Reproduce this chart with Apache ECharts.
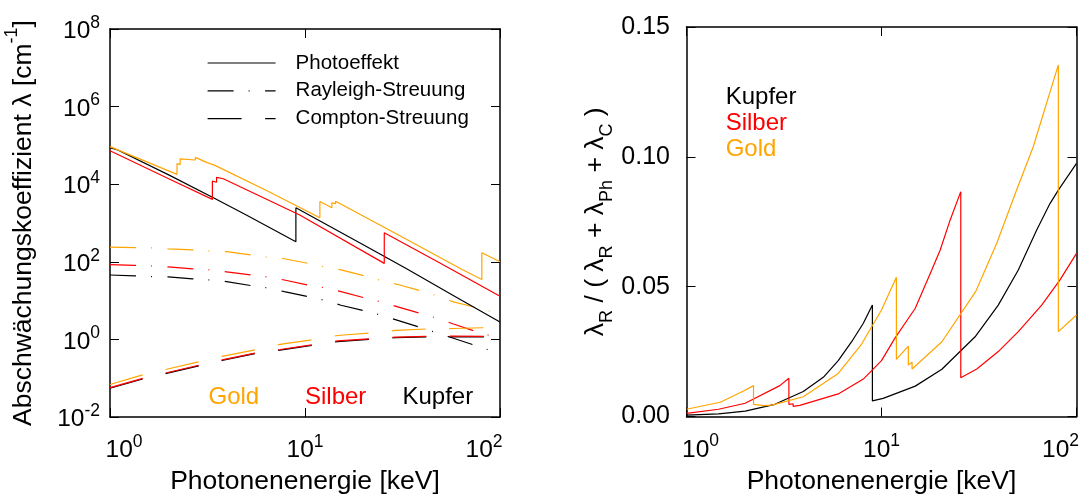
<!DOCTYPE html>
<html><head><meta charset="utf-8">
<script src="https://cdn.jsdelivr.net/npm/echarts@6/dist/echarts.min.js"></script>
<style>html,body{margin:0;padding:0;background:#fff}#c{width:1090px;height:503px}</style>
</head><body><div id="c"></div>
<script>
// ---------- data (energies in keV) ----------
const xTicks = [1, 10, 100];
const yTicksLeft = [0.01, 1, 100, 1e4, 1e6, 1e8];
const yTicksRight = [0, 0.05, 0.10, 0.15];

// Photoeffekt [cm^-1]
const cuPhotoE = [1, 1.096, 1.096, 2, 3.39, 5, 8.98, 8.98, 20, 33.2, 60, 100];
const cuPhoto  = [8.8e4, 7.6e4, 8.3e4, 1.74e4, 4.47e3, 1.6e3, 330, 2470, 270, 66, 12, 2.8];
const agPhotoE = [1, 2, 3.35, 3.35, 3.52, 3.52, 3.81, 3.81, 9.4, 25.5, 25.5, 50, 100];
const agPhoto  = [7.3e4, 1.38e4, 4.06e3, 1.2e4, 1.12e4, 1.5e4, 1.38e4, 1.55e4, 1.6e3, 91, 562, 89, 13];
const auPhotoE = [1, 2.206, 2.206, 2.29, 2.29, 2.74, 2.74, 3.15, 3.15, 3.43, 3.43, 6.35, 11.92, 11.92, 13.73, 13.73, 14.35, 14.35, 30, 63.6, 80.7, 80.7, 100];
const auPhoto  = [9.3e4, 1.79e4, 3.4e4, 3.2e4, 4.5e4, 4.2e4, 4.9e4, 3.6e4, 3.8e4, 3.1e4, 3.3e4, 6.9e3, 1.37e3, 3.6e3, 2.47e3, 3.3e3, 3.15e3, 3.63e3, 500, 64, 35, 171, 100];

// Rayleigh-Streuung [cm^-1]
const rayE  = [1, 1.34, 1.64, 1.99, 2.65, 3.26, 3.96, 5.26, 6.35, 7.83, 10.4, 12.6, 15.3, 20.3, 24.7, 29.9, 39.4, 47.9, 57.7, 75.9, 100];
const auRay = [240, 232, 228, 215, 204, 191, 182, 151, 132, 120, 91, 74, 62, 43, 33, 26, 17.8, 13.2, 9.3, 6.6, 4.6];
const agRay = [85, 81, 78, 74, 66, 62, 55, 46, 41, 34, 25, 21.4, 17.0, 11.7, 9.1, 6.9, 4.6, 3.5, 2.5, 1.58, 1.05];
const cuRay = [45.7, 43.6, 41.7, 40.7, 36.3, 33.9, 30.9, 24.5, 21.4, 17.0, 12.6, 10.2, 7.6, 5.4, 4.2, 3.1, 2.0, 1.45, 1.07, 0.68, 0.43];

// Compton-Streuung [cm^-1]
const comE  = [1, 1.5, 1.95, 2.89, 3.81, 5.69, 7.45, 11.2, 14.7, 22.2, 29.2, 44.3, 57.5, 83.2, 100];
const auCom = [0.069, 0.126, 0.17, 0.269, 0.372, 0.55, 0.741, 1.0, 1.26, 1.48, 1.70, 1.88, 1.91, 2.0, 2.0];
const agCom = [0.057, 0.102, 0.138, 0.219, 0.302, 0.457, 0.55, 0.741, 0.912, 1.047, 1.148, 1.20, 1.216, 1.20, 1.19];
const cuCom = [0.055, 0.098, 0.133, 0.211, 0.291, 0.441, 0.531, 0.715, 0.88, 1.01, 1.11, 1.16, 1.17, 1.16, 1.15];

// lambda_R / (lambda_R + lambda_Ph + lambda_C)
const cuRatioE = [1, 1.46, 2.0, 2.84, 3.97, 5.03, 6.0, 7.03, 8.07, 8.98, 8.98, 10.2, 14.9, 20.4, 30.2, 39.7, 50.3, 62.5, 73.1, 80.7, 100];
const cuRatio  = [0.0005, 0.001, 0.0021, 0.0047, 0.0096, 0.0151, 0.0215, 0.0288, 0.0359, 0.0429, 0.006, 0.007, 0.0117, 0.0182, 0.0307, 0.0429, 0.0564, 0.0718, 0.082, 0.0872, 0.0975];
const agRatioE = [1, 1.46, 2.0, 3.01, 3.35, 3.35, 3.52, 3.52, 3.81, 3.81, 6.0, 8.07, 10.0, 11.7, 14.9, 18.1, 20, 22.5, 25.5, 25.5, 30.8, 39.7, 50.3, 66.3, 82.3, 100];
const agRatio  = [0.0012, 0.0028, 0.0051, 0.0119, 0.0147, 0.0047, 0.0049, 0.0039, 0.0043, 0.0036, 0.0087, 0.0144, 0.0215, 0.0301, 0.0417, 0.0564, 0.0641, 0.0757, 0.0866, 0.0149, 0.0183, 0.025, 0.0327, 0.0429, 0.0526, 0.0628];
const auRatioE = [1, 1.49, 1.96, 2.206, 2.206, 2.5, 2.74, 3.97, 6.0, 7.91, 10.0, 11.92, 11.92, 13.73, 13.73, 14.35, 14.35, 20.4, 30.5, 39, 49.3, 60, 80.7, 80.7, 100];
const auRatio  = [0.0028, 0.0055, 0.0098, 0.0119, 0.0047, 0.0042, 0.0044, 0.0076, 0.0166, 0.0279, 0.041, 0.0536, 0.022, 0.0271, 0.0198, 0.0209, 0.0183, 0.0288, 0.0483, 0.0667, 0.0872, 0.1039, 0.1354, 0.0327, 0.0391];

const legendNames = ['Photoeffekt', 'Rayleigh-Streuung', 'Compton-Streuung'];
const materialNames = ['Gold', 'Silber', 'Kupfer'];

// ---------- styling ----------
const FONT = '"Liberation Sans", Arial, Helvetica, sans-serif';
const BLACK = '#000000', RED = '#ff0000', GOLD = '#ffa500';
const DASH_RAY = [26, 15, 1, 15.5];
const DASH_COM = [34, 23.5];
const LW = 1.2;

function pairs(xs, ys) { return xs.map((x, i) => [x, ys[i]]); }

const tickRich = {
  m:  {fontSize: 24.5, lineHeight: 30, verticalAlign: 'bottom', fontFamily: FONT, color: BLACK},
  ml: {fontSize: 24.5, lineHeight: 30, verticalAlign: 'bottom', fontFamily: FONT, color: BLACK, padding: [0, 0, 0, 28]},
  s:  {fontSize: 17.5, lineHeight: 18, verticalAlign: 'top', fontFamily: FONT, color: BLACK},
  sr: {fontSize: 17.5, lineHeight: 18, verticalAlign: 'top', fontFamily: FONT, color: BLACK, padding: [0, 32, 0, 0]}
};
const titleRich = {
  tl: {fontSize: 26.5, lineHeight: 34, verticalAlign: 'bottom', fontFamily: FONT, color: BLACK},
  ts: {fontSize: 18, lineHeight: 18, verticalAlign: 'top', fontFamily: FONT, color: BLACK},
  tt: {fontSize: 26.5, lineHeight: 34, verticalAlign: 'top', fontFamily: FONT, color: BLACK},
  tb: {fontSize: 18, lineHeight: 18, verticalAlign: 'bottom', fontFamily: FONT, color: BLACK}
};
function xPow(v) {
  const e = Math.round(Math.log10(v));
  if (e === 0) return '{ml|10}{s|' + e + '}';
  if (e === 2) return '{m|10}{sr|' + e + '}';
  return '{m|10}{s|' + e + '}';
}
function yPow(v) {
  const e = Math.round(Math.log10(v));
  return '{m|10}{s|' + e + '}';
}

const tickStyle = {show: true, inside: true, length: 9, lineStyle: {color: BLACK, width: 1}};
const lineStyleAxis = {show: true, onZero: false, lineStyle: {color: BLACK, width: 1.5}};

function xAx(grid, pos, labels) {
  return {
    type: 'log', logBase: 10, min: xTicks[0], max: xTicks[xTicks.length - 1], gridIndex: grid, position: pos,
    axisLine: lineStyleAxis, axisTick: tickStyle, splitLine: {show: false}, minorTick: {show: false},
    axisLabel: {show: labels, margin: 16, formatter: xPow, rich: tickRich},
    name: labels ? 'Photonenenergie [keV]' : '', nameLocation: 'middle', nameGap: 51.5, nameMoveOverlap: false,
    nameTextStyle: {fontSize: 26.5, color: BLACK, fontFamily: FONT}
  };
}
function yLogAx(pos, labels) {
  return {
    type: 'log', logBase: 100, min: yTicksLeft[0], max: yTicksLeft[yTicksLeft.length - 1], gridIndex: 0, position: pos,
    axisLine: lineStyleAxis, axisTick: tickStyle, splitLine: {show: false}, minorTick: {show: false},
    axisLabel: {show: labels, margin: 10, formatter: yPow, rich: tickRich},
    name: labels ? '{tl|Abschwächungskoeffizient λ [cm}{ts|-1}{tl|]}' : '', nameLocation: 'middle', nameRotate: 90, nameGap: 72.5,
    nameMoveOverlap: false, nameTextStyle: {rich: titleRich}
  };
}
function yLinAx(pos, labels) {
  return {
    type: 'value', min: yTicksRight[0], max: yTicksRight[yTicksRight.length - 1], interval: 0.05, gridIndex: 1, position: pos,
    axisLine: lineStyleAxis, axisTick: tickStyle, splitLine: {show: false},
    axisLabel: {show: labels, margin: 16.5, fontSize: 25, color: BLACK, fontFamily: FONT, formatter: v => v.toFixed(2)},
    name: labels ? '{tt|λ}{tb|R}{tt| / ( λ}{tb|R}{tt| + λ}{tb|Ph}{tt| + λ}{tb|C}{tt| )}' : '', nameLocation: 'middle', nameRotate: 90, nameGap: 70,
    nameMoveOverlap: false, nameTextStyle: {rich: titleRich}
  };
}

function ser(name, xs, ys, color, dash, xi, yi) {
  return {
    name: name, type: 'line', xAxisIndex: xi, yAxisIndex: yi, data: pairs(xs, ys),
    symbol: 'none', showSymbol: false, silent: true, clip: true,
    lineStyle: {color: color, width: LW, type: dash}, itemStyle: {color: color}
  };
}

const series = [
  ser('Au-R', rayE, auRay, GOLD, DASH_RAY, 0, 0),
  ser('Ag-R', rayE, agRay, RED, DASH_RAY, 0, 0),
  ser('Cu-R', rayE, cuRay, BLACK, DASH_RAY, 0, 0),
  ser('Au-C', comE, auCom, GOLD, DASH_COM, 0, 0),
  ser('Cu-C', comE, cuCom, BLACK, DASH_COM, 0, 0),
  ser('Ag-C', comE, agCom, RED, DASH_COM, 0, 0),
  ser('Cu-P', cuPhotoE, cuPhoto, BLACK, 'solid', 0, 0),
  ser('Ag-P', agPhotoE, agPhoto, RED, 'solid', 0, 0),
  ser('Au-P', auPhotoE, auPhoto, GOLD, 'solid', 0, 0),
  ser('Cu-ratio', cuRatioE, cuRatio, BLACK, 'solid', 2, 2),
  ser('Ag-ratio', agRatioE, agRatio, RED, 'solid', 2, 2),
  ser('Au-ratio', auRatioE, auRatio, GOLD, 'solid', 2, 2),
  // legend entries (style samples only)
  {name: legendNames[0], type: 'line', xAxisIndex: 0, yAxisIndex: 0, data: [], symbol: 'none', lineStyle: {color: BLACK, width: LW, type: 'solid'}, itemStyle: {color: BLACK}},
  {name: legendNames[1], type: 'line', xAxisIndex: 0, yAxisIndex: 0, data: [], symbol: 'none', lineStyle: {color: BLACK, width: LW, type: DASH_RAY}, itemStyle: {color: BLACK}},
  {name: legendNames[2], type: 'line', xAxisIndex: 0, yAxisIndex: 0, data: [], symbol: 'none', lineStyle: {color: BLACK, width: LW, type: DASH_COM}, itemStyle: {color: BLACK}}
];

function label(text, x, y, color) {
  return {type: 'text', x: x, y: y, silent: true,
    style: {text: text, fill: color, fontSize: 24, fontFamily: FONT, align: 'left', verticalAlign: 'middle'}};
}

const chart = echarts.init(document.getElementById('c'), null, {renderer: 'canvas'});
chart.setOption({
  animation: false,
  backgroundColor: '#ffffff',
  textStyle: {fontFamily: FONT},
  grid: [
    {left: 110, top: 29, width: 390, height: 388, containLabel: false, outerBoundsMode: 'none'},
    {left: 686.5, top: 27, width: 390, height: 389.5, containLabel: false, outerBoundsMode: 'none'}
  ],
  xAxis: [xAx(0, 'bottom', true), xAx(0, 'top', false), xAx(1, 'bottom', true), xAx(1, 'top', false)],
  yAxis: [yLogAx('left', true), yLogAx('right', false), yLinAx('left', true), yLinAx('right', false)],
  legend: {
    data: legendNames, orient: 'vertical', left: 202, top: 47.5, itemWidth: 68, itemHeight: 14, itemGap: 6.8,
    selectedMode: false, itemStyle: {opacity: 0}, lineStyle: {width: LW},
    textStyle: {fontSize: 20.5, color: BLACK, fontFamily: FONT, padding: [0, 0, 0, 15]}
  },
  graphic: [
    label(materialNames[0], 208.5, 397, GOLD),
    label(materialNames[1], 305, 397, RED),
    label(materialNames[2], 402.5, 397, BLACK),
    label(materialNames[2], 725.7, 97, BLACK),
    label(materialNames[1], 725.7, 123, RED),
    label(materialNames[0], 725.7, 149, GOLD)
  ],
  series: series
});
</script></body></html>
